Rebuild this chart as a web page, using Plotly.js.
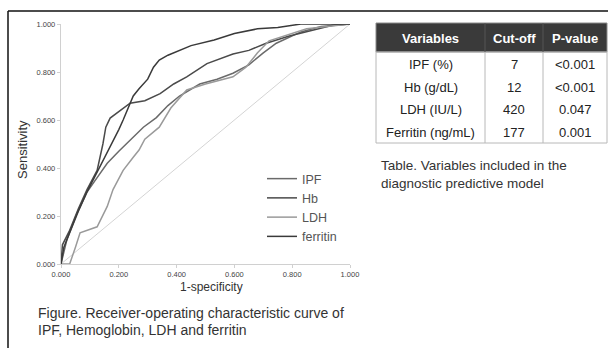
<!DOCTYPE html>
<html><head><meta charset="utf-8">
<script src="https://cdn.plot.ly/plotly-3.0.1.min.js"></script>
<style>html,body{margin:0;padding:0;background:#fff}#c{width:608px;height:348px}</style>
</head><body><div id="c"></div>
<script>
// ROC curve readings (1-specificity, sensitivity)
const ferritinX = [0,0.005,0.01,0.03,0.06,0.09,0.12,0.145,0.17,0.2,0.215,0.23,0.25,0.27,0.3,0.32,0.34,0.37,0.41,0.45,0.53,0.6,0.68,0.75,0.83,1];
const ferritinY = [0,0.04,0.07,0.13,0.22,0.30,0.37,0.43,0.49,0.56,0.60,0.64,0.70,0.73,0.77,0.82,0.85,0.87,0.89,0.91,0.933,0.96,0.98,0.985,1,1];
const hbX = [0,0.005,0.03,0.06,0.09,0.125,0.145,0.155,0.17,0.2,0.239,0.29,0.343,0.39,0.435,0.505,0.595,0.65,0.71,0.79,0.87,0.94,1];
const hbY = [0,0.08,0.14,0.23,0.31,0.39,0.50,0.57,0.608,0.635,0.67,0.68,0.71,0.75,0.78,0.835,0.875,0.89,0.92,0.95,0.975,0.995,1];
const ipfX = [0,0.01,0.02,0.055,0.09,0.125,0.16,0.2,0.25,0.285,0.33,0.37,0.41,0.48,0.54,0.595,0.65,0.70,0.745,0.83,0.9,1];
const ipfY = [0,0.05,0.10,0.21,0.30,0.36,0.42,0.47,0.53,0.57,0.61,0.66,0.70,0.75,0.77,0.795,0.83,0.88,0.92,0.967,0.99,1];
const ldhX = [0,0.03,0.05,0.066,0.125,0.16,0.18,0.215,0.25,0.27,0.29,0.34,0.38,0.435,0.5,0.595,0.64,0.68,0.72,0.85,1];
const ldhY = [0,0,0.07,0.13,0.155,0.24,0.31,0.39,0.445,0.475,0.52,0.57,0.65,0.725,0.75,0.78,0.82,0.88,0.93,0.98,1];
const refX = [0,1];
const refY = [0,1];

// Table data
const tblHeader = ['Variables','Cut-off','P-value'];
const tblVariables = ['IPF (%)','Hb (g/dL)','LDH (IU/L)','Ferritin (ng/mL)'];
const tblCutoff = ['7','12','420','177'];
const tblPvalue = ['<0.001','<0.001','0.047','0.001'];

const W=608,H=348;
const px = v=>v/W, py = v=>1-v/H;
const FONT = 'Liberation Sans, Arial, sans-serif';

const traces = [
  {x:refX,y:refY,mode:'lines',line:{color:'#d4d4d4',width:1},showlegend:false,hoverinfo:'skip'},
  {x:ipfX,y:ipfY,name:'IPF',mode:'lines',line:{color:'#6a6a6a',width:1.5}},
  {x:hbX,y:hbY,name:'Hb',mode:'lines',line:{color:'#4a4a4a',width:1.5}},
  {x:ldhX,y:ldhY,name:'LDH',mode:'lines',line:{color:'#9a9a9a',width:1.5}},
  {x:ferritinX,y:ferritinY,name:'ferritin',mode:'lines',line:{color:'#3a3a3a',width:1.5}}
];

const shapes = [
  {type:'line',xref:'paper',yref:'paper',x0:px(8),x1:1,y0:py(11),y1:py(11),line:{color:'#111',width:1.5}},
  {type:'line',xref:'paper',yref:'paper',x0:px(8),x1:px(8),y0:py(11),y1:0,line:{color:'#111',width:1.5}}
];
const annotations = [
  {xref:'paper',yref:'paper',x:px(22),y:py(150),text:'Sensitivity',textangle:-90,showarrow:false,
    font:{size:13,color:'#333'},xanchor:'center',yanchor:'middle'},
  {xref:'paper',yref:'paper',x:px(211),y:py(287),text:'1-specificity',showarrow:false,
    font:{size:12,color:'#333'},xanchor:'center',yanchor:'middle'},
  {xref:'paper',yref:'paper',x:px(36),y:py(313),text:'Figure. Receiver-operating characteristic curve of',showarrow:false,
    font:{size:14,color:'#333'},xanchor:'left',yanchor:'middle'},
  {xref:'paper',yref:'paper',x:px(36),y:py(330),text:'IPF, Hemoglobin, LDH and ferritin',showarrow:false,
    font:{size:14,color:'#333'},xanchor:'left',yanchor:'middle'},
  {xref:'paper',yref:'paper',x:px(379),y:py(165),text:'Table. Variables included in the',showarrow:false,
    font:{size:13.5,color:'#333'},xanchor:'left',yanchor:'middle'},
  {xref:'paper',yref:'paper',x:px(379),y:py(183),text:'diagnostic predictive model',showarrow:false,
    font:{size:13.5,color:'#333'},xanchor:'left',yanchor:'middle'}
];

// Table drawn from the arrays
const colEdges = [376,485,543,607];
const headTop = 23, headBot = 52, rowH = 22.75;
const columns = [tblVariables, tblCutoff, tblPvalue];
const nRows = tblVariables.length;
const tBot = headBot + nRows*rowH;
shapes.push({type:'rect',xref:'paper',yref:'paper',x0:px(colEdges[0]),x1:px(colEdges[3]),y0:py(headBot),y1:py(headTop),
  fillcolor:'#3a3a3a',line:{color:'#8a8a8a',width:1}});
shapes.push({type:'rect',xref:'paper',yref:'paper',x0:px(colEdges[0]),x1:px(colEdges[3]),y0:py(tBot),y1:py(headBot),
  fillcolor:'rgba(0,0,0,0)',line:{color:'#b8b8b8',width:1}});
for (let c=1;c<3;c++){
  shapes.push({type:'line',xref:'paper',yref:'paper',x0:px(colEdges[c]),x1:px(colEdges[c]),y0:py(tBot),y1:py(headBot),line:{color:'#b8b8b8',width:1}});
  shapes.push({type:'line',xref:'paper',yref:'paper',x0:px(colEdges[c]),x1:px(colEdges[c]),y0:py(headBot),y1:py(headTop),line:{color:'#555',width:1}});
}
for (let c=0;c<3;c++){
  const cx = (colEdges[c]+colEdges[c+1])/2;
  annotations.push({xref:'paper',yref:'paper',x:px(cx),y:py((headTop+headBot)/2+1),text:'<b>'+tblHeader[c]+'</b>',showarrow:false,
    font:{size:13,color:'#ffffff'},xanchor:'center',yanchor:'middle'});
  for (let r=0;r<nRows;r++){
    annotations.push({xref:'paper',yref:'paper',x:px(cx),y:py(headBot+rowH*(r+0.5)+1),text:columns[c][r],showarrow:false,
      font:{size:13,color:'#222'},xanchor:'center',yanchor:'middle'});
  }
}

const layout = {
  width:W,height:H,margin:{l:0,r:0,t:0,b:0},
  paper_bgcolor:'#fff',plot_bgcolor:'#fff',
  font:{family:FONT,color:'#333'},
  xaxis:{domain:[px(61),px(350)],range:[0,1],tickvals:[0,0.2,0.4,0.6,0.8,1],tickformat:'.3f',
    showgrid:false,zeroline:false,showline:true,linecolor:'#d0d0d0',linewidth:1.2,
    ticks:'outside',ticklen:3,tickcolor:'#d0d0d0',tickfont:{size:7.5,color:'#444'},fixedrange:true},
  yaxis:{domain:[py(264),py(24)],range:[0,1],tickvals:[0,0.2,0.4,0.6,0.8,1],tickformat:'.3f',
    showgrid:false,zeroline:false,showline:true,linecolor:'#d0d0d0',linewidth:1.2,
    ticks:'outside',ticklen:3,tickcolor:'#d0d0d0',tickfont:{size:7.5,color:'#444'},fixedrange:true},
  showlegend:true,
  legend:{x:px(262),y:py(164),xanchor:'left',yanchor:'top',bgcolor:'rgba(0,0,0,0)',
    font:{family:FONT,size:12.5,color:'#555'},tracegroupgap:0,itemwidth:30},
  shapes:shapes,
  annotations:annotations
};
Plotly.newPlot('c',traces,layout,{displayModeBar:false,staticPlot:true});
</script></body></html>
